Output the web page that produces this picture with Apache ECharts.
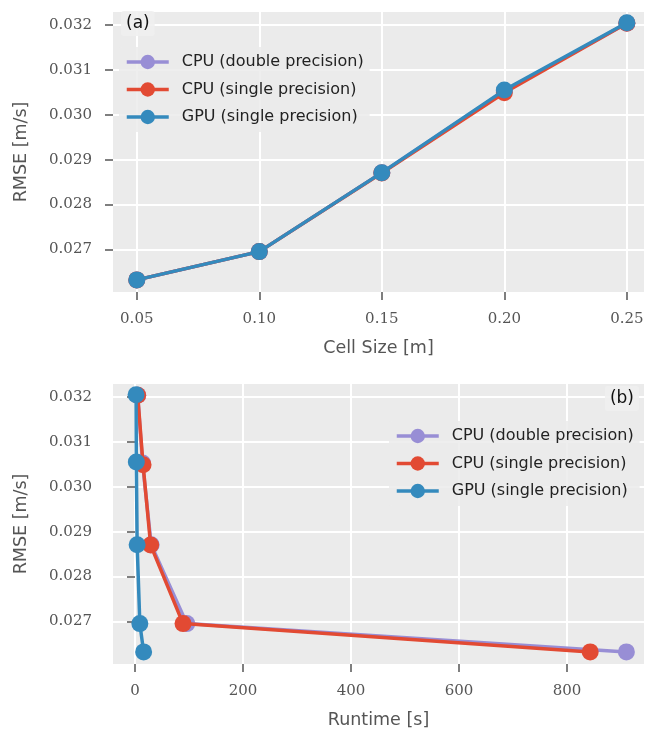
<!DOCTYPE html>
<html>
<head>
<meta charset="utf-8">
<script src="https://cdn.jsdelivr.net/npm/echarts@6/dist/echarts.min.js"></script>
<style>
  html, body { margin: 0; padding: 0; background: #fff; }
  #chart { width: 645px; height: 730px; }
</style>
</head>
<body>
<div id="chart"></div>
<script>
  // 数据
  var cellSize = [0.05, 0.10, 0.15, 0.20, 0.25]
  var rmseCpuDouble = [0.02632, 0.02695, 0.02871, 0.03053, 0.03204]
  var rmseCpuSingle = [0.02632, 0.02695, 0.02870, 0.03049, 0.03204]
  var rmseGpuSingle = [0.02632, 0.02695, 0.02871, 0.03055, 0.03205]
  var runtimeCpuDouble = [910, 96, 30, 14, 5]
  var runtimeCpuSingle = [843, 89, 29, 15, 5]
  var runtimeGpuSingle = [16, 9, 4, 2.5, 2]
  var xTicksTop = [0.05, 0.10, 0.15, 0.20, 0.25]
  var xTicksBottom = [0, 200, 400, 600, 800]
  var yTicks = [0.027, 0.028, 0.029, 0.030, 0.031, 0.032]
  var names = ['CPU (double precision)', 'CPU (single precision)', 'GPU (single precision)']
  var colors = ['#988ED5', '#E24A33', '#348ABD']

  var tickFont = { fontFamily: 'DejaVu Serif', fontSize: 15, color: '#555' }
  var nameFont = { fontFamily: 'DejaVu Sans', fontSize: 17.5, color: '#555' }

  function pairs (xs, ys) {
    return xs.map(function (x, i) { return [x, ys[i]] })
  }

  function xAxis (idx, min, max, ticks, fmt, name) {
    return {
      type: 'value', gridIndex: idx, min: min, max: max,
      name: name, nameLocation: 'middle', nameGap: 47, nameTextStyle: nameFont,
      axisLine: { show: false },
      axisTick: { show: true, length: 8, lineStyle: { color: '#555', width: 1.5 }, customValues: ticks },
      axisLabel: Object.assign({ margin: 20, customValues: ticks, formatter: fmt }, tickFont),
      splitLine: { show: true, lineStyle: { color: '#fff', width: 2 } }
    }
  }

  function yAxis (idx) {
    return {
      type: 'value', gridIndex: idx, min: 0.02605, max: 0.03229,
      name: 'RMSE [m/s]', nameLocation: 'middle', nameGap: 83, nameTextStyle: nameFont,
      axisLine: { show: false },
      axisTick: { show: true, length: 8, lineStyle: { color: '#555', width: 1.5 }, customValues: yTicks },
      axisLabel: Object.assign({ margin: 21, customValues: yTicks, formatter: function (v) { return v.toFixed(3) } }, tickFont),
      splitLine: { show: true, lineStyle: { color: '#fff', width: 2 } }
    }
  }

  function line (name, color, data, idx, z) {
    return {
      name: name, type: 'line', xAxisIndex: idx, yAxisIndex: idx,
      data: data, symbol: 'circle', symbolSize: 17, z: z,
      lineStyle: { color: color, width: 3.5 },
      itemStyle: { color: color },
      animation: false
    }
  }

  var legendBase = {
    orient: 'vertical', itemWidth: 42, itemHeight: 18, itemGap: 9.5,
    textStyle: { fontFamily: 'DejaVu Sans', fontSize: 16, color: '#222', lineHeight: 18, padding: [0, 0, 0, 8] },
    lineStyle: { width: 3.5 },
    backgroundColor: 'rgba(235,235,235,0.85)', borderRadius: 3, padding: [6, 6],
    data: names, selectedMode: false
  }

  var chart = echarts.init(document.getElementById('chart'))
  chart.setOption({
    backgroundColor: '#fff',
    title: [
      { text: '(a)', left: 121, top: 11, padding: [4, 5], backgroundColor: 'rgba(240,240,240,0.9)', borderRadius: 3,
        textStyle: { fontFamily: 'DejaVu Sans', fontSize: 17, fontWeight: 'normal', color: '#111' } },
      { text: '(b)', right: 6, top: 386, padding: [4, 5], backgroundColor: 'rgba(240,240,240,0.9)', borderRadius: 3,
        textStyle: { fontFamily: 'DejaVu Sans', fontSize: 17, fontWeight: 'normal', color: '#111' } }
    ],
    legend: [
      Object.assign({ left: 119, top: 47 }, legendBase),
      Object.assign({ left: 389, top: 421 }, legendBase)
    ],
    grid: [
      { left: 113, top: 12, width: 531, height: 280, backgroundColor: '#EBEBEB', show: true, borderWidth: 0,
        containLabel: false, outerBoundsMode: 'none' },
      { left: 113, top: 384, width: 531, height: 280, backgroundColor: '#EBEBEB', show: true, borderWidth: 0,
        containLabel: false, outerBoundsMode: 'none' }
    ],
    xAxis: [
      xAxis(0, 0.0403, 0.257, xTicksTop, function (v) { return v.toFixed(2) }, 'Cell Size [m]'),
      xAxis(1, -40.7, 942.6, xTicksBottom, function (v) { return String(v) }, 'Runtime [s]')
    ],
    yAxis: [yAxis(0), yAxis(1)],
    series: [
      line(names[0], colors[0], pairs(cellSize, rmseCpuDouble), 0, 2),
      line(names[1], colors[1], pairs(cellSize, rmseCpuSingle), 0, 3),
      line(names[2], colors[2], pairs(cellSize, rmseGpuSingle), 0, 4),
      line(names[0], colors[0], pairs(runtimeCpuDouble, rmseCpuDouble), 1, 2),
      line(names[1], colors[1], pairs(runtimeCpuSingle, rmseCpuSingle), 1, 3),
      line(names[2], colors[2], pairs(runtimeGpuSingle, rmseGpuSingle), 1, 4)
    ]
  })
</script>
</body>
</html>
